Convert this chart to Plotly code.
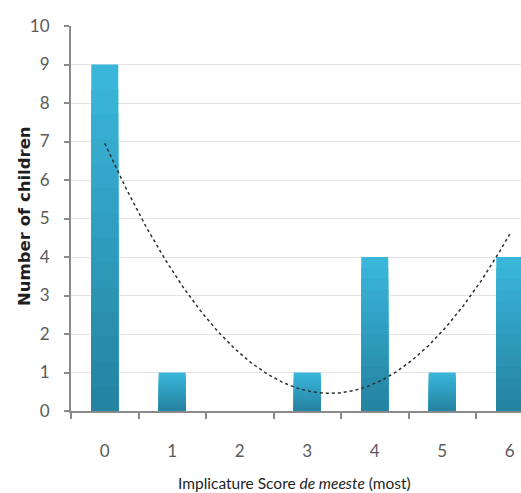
import numpy as np
import plotly.graph_objects as go

# Data
scores = [0, 1, 2, 3, 4, 5, 6]
children = [9, 1, 0, 1, 4, 1, 4]
tick_labels = ["0", "1", "2", "3", "4", "5", "6"]

x_title = "Implicature Score <i>de meeste</i> (most)"
y_title = "<b>Number of children</b>"

# 2nd-order polynomial trend line fitted on the data
coef = np.polyfit(scores, children, 2)
xt = np.linspace(scores[0], scores[-1], 200)
yt = np.polyval(coef, xt)

light = np.array([0x3A, 0xB6, 0xDA])
dark = np.array([0x26, 0x84, 0xA3])

L, T, B = 71, 26, 82
W, H = 521, 493
PW, PH = W - L, H - T - B

fig = go.Figure()
N = 14
for k in range(N):
    frac = 1 - k / N
    t = k / (N - 1)
    c = (light * (1 - t) + dark * t).astype(int)
    fig.add_trace(go.Bar(
        x=scores, y=[v * frac for v in children], width=0.4,
        marker=dict(color=f"rgb({c[0]},{c[1]},{c[2]})", line=dict(width=0)),
        showlegend=False, hoverinfo="skip"))

fig.add_trace(go.Scatter(x=xt, y=yt, mode="lines",
                         line=dict(color="#2e2e2e", width=1.5, dash="dot"),
                         showlegend=False, hoverinfo="skip"))

xmax = -0.5 + PW / 67.5

fig.update_layout(
    width=W, height=H,
    margin=dict(l=L, r=0, t=T, b=B),
    barmode="overlay",
    plot_bgcolor="white", paper_bgcolor="white",
    font=dict(family="Lato", color="#595959", size=17),
    xaxis=dict(
        range=[-0.5, xmax], tickvals=scores, ticktext=tick_labels,
        ticks="", showgrid=False, zeroline=False,
        showline=True, linecolor="#8a8a8a", linewidth=2,
        ticklabelstandoff=24,
        minor=dict(tickvals=[s - 0.5 for s in scores] + [6.5], ticks="outside",
                   ticklen=6, tickwidth=2, tickcolor="#8a8a8a", showgrid=False),
        tickfont=dict(size=17, color="#5a5a5a"),
    ),
    yaxis=dict(
        range=[0, 10], dtick=1, tick0=0,
        ticks="outside", ticklen=5, tickwidth=2, tickcolor="#8a8a8a",
        showline=True, linecolor="#8a8a8a", linewidth=2,
        showgrid=True, gridcolor="#e4e4e4", gridwidth=1, zeroline=False,
        ticklabelstandoff=11,
        tickfont=dict(size=17, color="#5a5a5a"),
    ),
    annotations=[
        dict(text=x_title, xref="paper", yref="paper",
             x=(294 - L) / PW, y=-(483 - (H - B)) / PH, xanchor="center", yanchor="middle",
             showarrow=False, font=dict(size=15.5, color="#1e1e1e", family="Lato")),
        dict(text=y_title, xref="paper", yref="paper",
             x=-(L - 24) / PW, y=((H - B) - 216) / PH, xanchor="center", yanchor="middle",
             textangle=-90, showarrow=False,
             font=dict(size=16.5, color="#1e1e1e", family="DejaVu Sans")),
    ],
)

fig.write_html("out.html", config={"displayModeBar": False},
               post_script="document.body.style.margin='0';document.body.style.overflow='hidden';")
